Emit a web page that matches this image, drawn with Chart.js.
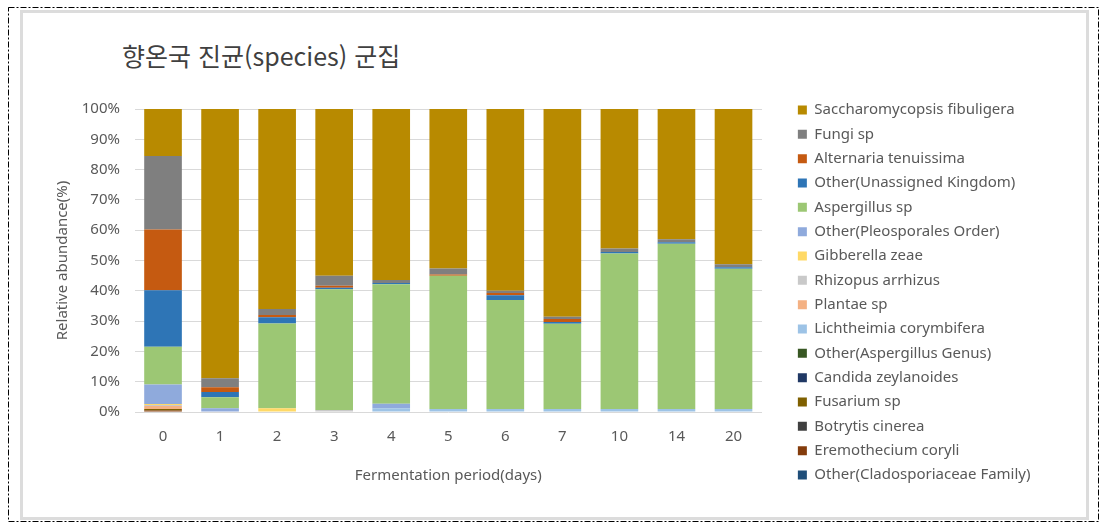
<!DOCTYPE html>
<html lang="ko">
<head>
<meta charset="utf-8">
<title>향온국 진균(species) 군집</title>
<script src="https://cdn.jsdelivr.net/npm/chart.js@4.4.1/dist/chart.umd.min.js"></script>
<style>
  html, body { margin: 0; padding: 0; background: #fff; }
  #wrap { position: relative; width: 1109px; height: 526px; overflow: hidden; }
  #frame { position: absolute; left: 0; top: 0; }
  #title {
    position: absolute; left: 122px; top: 39px;
    font-family: "Noto Sans CJK KR", "Noto Sans", sans-serif;
    font-size: 25px; line-height: 32px; color: #404040; white-space: nowrap;
  }
  #chart { position: absolute; left: 0; top: 0; }
</style>
</head>
<body>
<div id="wrap">
  <svg id="frame" width="1109" height="526">
    <rect x="21.5" y="11.5" width="1066" height="507" fill="none" stroke="#dcdcdc" stroke-width="3"/>
    <rect x="8.5" y="7.5" width="1090" height="514" fill="none" stroke="#000" stroke-width="1" stroke-dasharray="6,2,2,2"/>
  </svg>
  <div id="title">향온국 진균(species) 군집</div>
  <canvas id="chart" width="1109" height="526"></canvas>
</div>
<script>
/* Fungal community (species) by fermentation day, stacked 100% bars. */

const days = ["0", "1", "2", "3", "4", "5", "6", "7", "10", "14", "20"];

// series values (%), listed bottom of stack -> top
const cladosporiaceae = [0, 0, 0, 0, 0, 0, 0, 0, 0, 0, 0];
const eremothecium    = [0.5, 0, 0, 0, 0, 0, 0, 0, 0, 0, 0];
const botrytis        = [0, 0, 0, 0, 0, 0, 0, 0, 0, 0, 0];
const fusarium        = [0.5, 0, 0, 0, 0, 0, 0, 0, 0, 0, 0];
const candida         = [0, 0, 0, 0, 0, 0, 0, 0, 0, 0, 0];
const aspGenus        = [0, 0, 0, 0, 0, 0, 0, 0, 0, 0, 0];
const lichtheimia     = [0, 0, 0, 0, 1.2, 1.0, 1.0, 1.0, 1.0, 1.0, 1.0];
const plantae         = [1.0, 0, 0, 0, 0, 0, 0, 0, 0, 0, 0];
const rhizopus        = [0.3, 0, 0, 0.7, 0, 0, 0, 0, 0, 0, 0];
const gibberella      = [0.3, 0, 1.2, 0, 0, 0, 0, 0, 0, 0, 0];
const pleosporales    = [6.5, 1.2, 0, 0, 1.5, 0, 0, 0, 0, 0, 0];
const aspergillus     = [12.4, 3.7, 28.0, 39.8, 39.5, 44.0, 36.0, 28.1, 51.3, 54.5, 46.3];
const unassigned      = [18.7, 1.7, 2.1, 0.5, 0.4, 0, 1.5, 0.6, 0.5, 0.5, 0.5];
const alternaria      = [20.0, 1.6, 0.7, 0.7, 0, 0.4, 0.8, 1.0, 0, 0, 0];
const fungi           = [24.3, 2.9, 2.0, 3.3, 1.0, 2.0, 0.7, 0.7, 1.2, 1.0, 1.0];
const saccharomycopsis = [15.5, 88.9, 66.0, 55.0, 56.4, 52.6, 60.0, 68.6, 46.0, 43.0, 51.2];

const yTicks = [0, 10, 20, 30, 40, 50, 60, 70, 80, 90, 100];

const seriesNames = [
  "Other(Cladosporiaceae Family)", "Eremothecium coryli", "Botrytis cinerea", "Fusarium sp",
  "Candida zeylanoides", "Other(Aspergillus Genus)", "Lichtheimia corymbifera", "Plantae sp",
  "Rhizopus arrhizus", "Gibberella zeae", "Other(Pleosporales Order)", "Aspergillus sp",
  "Other(Unassigned Kingdom)", "Alternaria tenuissima", "Fungi sp", "Saccharomycopsis fibuligera",
];
const seriesValues = [
  cladosporiaceae, eremothecium, botrytis, fusarium, candida, aspGenus, lichtheimia, plantae,
  rhizopus, gibberella, pleosporales, aspergillus, unassigned, alternaria, fungi, saccharomycopsis,
];
const seriesColors = [
  "#1f4e79", "#843c0c", "#404040", "#7f6000", "#203864", "#385723", "#9dc3e6", "#f4b183",
  "#c9c9c9", "#ffd966", "#8faadc", "#9cc774", "#2e75b6", "#c55a11", "#7f7f7f", "#b88a00",
];

const TEXT = "#595959";
const FONT = "'Noto Sans', sans-serif";

function spacer(position, size) {
  // invisible axis used only to reserve room in the layout
  const horizontal = position === "top";
  return {
    type: "linear", position, display: false,
    afterFit: (s) => { if (horizontal) s.height = size; else s.width = size; },
  };
}

function initChart() {
  const ctx = document.getElementById("chart").getContext("2d");

  new Chart(ctx, {
    type: "bar",
    data: {
      labels: days,
      datasets: seriesNames.map((name, i) => ({
        label: name,
        data: seriesValues[i],
        backgroundColor: seriesColors[i],
        borderWidth: 0,
        barPercentage: 1,
        categoryPercentage: 0.66,
      })),
    },
    options: {
      responsive: false,
      animation: false,
      layout: { padding: { left: 0, right: 68.5, top: 93.2, bottom: 26 } },
      plugins: {
        title: { display: false },
        tooltip: { enabled: false },
        legend: {
          position: "right",
          align: "start",
          reverse: true,
          labels: {
            boxWidth: 9,
            boxHeight: 9,
            padding: 9.33,
            color: TEXT,
            font: { family: FONT, size: 15 },
          },
        },
      },
      scales: {
        x: {
          stacked: true,
          grid: { display: false },
          border: { display: false },
          ticks: { color: TEXT, padding: 8, font: { family: FONT, size: 15 } },
          title: {
            display: true,
            text: "Fermentation period(days)",
            color: TEXT,
            font: { family: FONT, size: 15 },
            padding: { top: 0, bottom: 15.6 },
          },
          afterFit: (s) => { s.height = 88; },
        },
        y: {
          stacked: true,
          min: 0,
          max: 100,
          afterBuildTicks: (s) => { s.ticks = yTicks.map((v) => ({ value: v })); },
          grid: { color: "#d9d9d9", drawTicks: false },
          border: { display: false },
          ticks: {
            color: TEXT,
            padding: 14.5,
            font: { family: FONT, size: 15 },
            callback: (v) => v + "%",
          },
          title: {
            display: true,
            text: "Relative abundance(%)",
            color: TEXT,
            font: { family: FONT, size: 15 },
            padding: { top: 54, bottom: 0 },
          },
          afterFit: (s) => { s.width = 134.5; },
        },
        xTop: spacer("top", 15.8),
        yRight: spacer("right", 26.5),
      },
    },
  });
}

document.addEventListener("DOMContentLoaded", initChart);
</script>
</body>
</html>
